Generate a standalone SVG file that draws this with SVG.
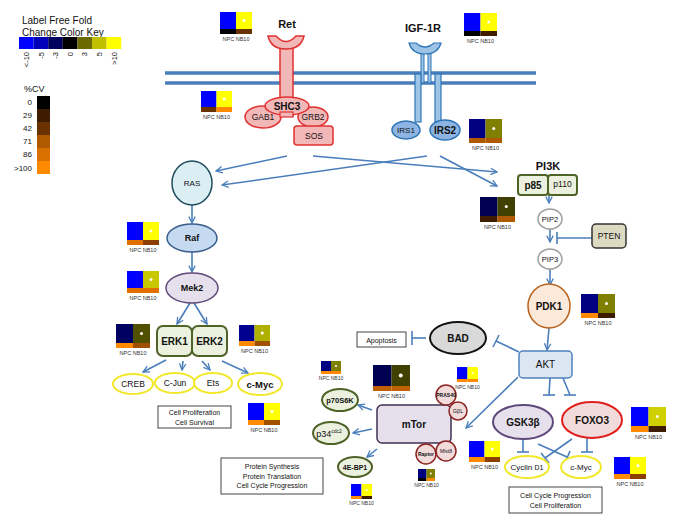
<svg xmlns="http://www.w3.org/2000/svg" width="673" height="521" viewBox="0 0 673 521">
<style>
text{font-family:"Liberation Sans",Arial,sans-serif;fill:#111}
.b{font-weight:bold}
.lab{font-size:5.5px;text-anchor:middle;fill:#333}
.c{text-anchor:middle}
.edge{stroke:#4a7ebb;stroke-width:1.6;fill:none}
.inh{stroke:#4a7ebb;stroke-width:1.6;fill:none}
.dot{fill:#fff}
.mem{stroke:#4a7ebb;stroke-width:3.5}
.ylw{fill:#fff;stroke:#f2e82a;stroke-width:2}
.grn{fill:#ebf1de;stroke:#4f6228;stroke-width:2}
.box{fill:#fff;stroke:#444;stroke-width:1}
.pnk{fill:#f2dcdb;stroke:#8b2323;stroke-width:1.5}
</style>
<defs>
<marker id="arr" viewBox="0 0 10 10" refX="9" refY="5" markerWidth="8" markerHeight="8" markerUnits="userSpaceOnUse" orient="auto">
<path d="M1,1 L9,5 L1,9" fill="none" stroke="#4a7ebb" stroke-width="1.6"/>
</marker>
</defs>

<g id="key">
<text x="22" y="24" font-size="10">Label Free Fold</text>
<text x="22" y="36" font-size="10">Change Color Key</text>
<rect x="19" y="37" width="14.6" height="12" fill="#0000ff"/>
<rect x="33.6" y="37" width="14.6" height="12" fill="#0000b8"/>
<rect x="48.2" y="37" width="14.6" height="12" fill="#00005e"/>
<rect x="62.8" y="37" width="14.6" height="12" fill="#000000"/>
<rect x="77.4" y="37" width="14.6" height="12" fill="#6a6a00"/>
<rect x="92" y="37" width="14.6" height="12" fill="#c0c000"/>
<rect x="106.6" y="37" width="14.6" height="12" fill="#ffff00"/>
<g font-size="7.5" text-anchor="end">
<text transform="translate(29,52) rotate(-90)">&lt;-10</text>
<text transform="translate(43.5,52) rotate(-90)">-5</text>
<text transform="translate(58,52) rotate(-90)">-3</text>
<text transform="translate(72.7,52) rotate(-90)">0</text>
<text transform="translate(87.3,52) rotate(-90)">3</text>
<text transform="translate(102,52) rotate(-90)">5</text>
<text transform="translate(116.5,52) rotate(-90)">&gt;10</text>
</g>
<text x="24" y="92" font-size="9">%CV</text>
<rect x="37" y="96" width="13" height="13" fill="#000000"/>
<rect x="37" y="109" width="13" height="13" fill="#3d1c00"/>
<rect x="37" y="122" width="13" height="13" fill="#6a3200"/>
<rect x="37" y="135" width="13" height="13" fill="#b05a00"/>
<rect x="37" y="148" width="13" height="13" fill="#da7000"/>
<rect x="37" y="161" width="13" height="13" fill="#ff8a00"/>
<g font-size="8" text-anchor="end">
<text x="32" y="105">0</text>
<text x="32" y="118">29</text>
<text x="32" y="131">42</text>
<text x="32" y="144">71</text>
<text x="32" y="157">86</text>
<text x="32" y="171">&gt;100</text>
</g>
</g>

<g id="membrane">
<line class="mem" x1="165" y1="73" x2="536" y2="73"/>
<line class="mem" x1="165" y1="83" x2="536" y2="83"/>
</g>

<g id="connectors">
<line class="edge" x1="287" y1="156" x2="216" y2="171" marker-end="url(#arr)"/>
<line class="edge" x1="313" y1="156" x2="497" y2="172" marker-end="url(#arr)"/>
<line class="edge" x1="427" y1="156" x2="222" y2="185" marker-end="url(#arr)"/>
<line class="edge" x1="440" y1="156" x2="497" y2="186" marker-end="url(#arr)"/>
<line class="edge" x1="192" y1="205" x2="192" y2="223" marker-end="url(#arr)"/>
<line class="edge" x1="192" y1="252" x2="192" y2="272" marker-end="url(#arr)"/>
<line class="edge" x1="190" y1="303" x2="177" y2="324" marker-end="url(#arr)"/>
<line class="edge" x1="194" y1="303" x2="207" y2="324" marker-end="url(#arr)"/>
<line class="edge" x1="166" y1="360" x2="143" y2="372" marker-end="url(#arr)"/>
<line class="edge" x1="183" y1="361" x2="182" y2="370" marker-end="url(#arr)"/>
<line class="edge" x1="202" y1="361" x2="210" y2="370" marker-end="url(#arr)"/>
<line class="edge" x1="222" y1="361" x2="248" y2="373" marker-end="url(#arr)"/>
<line class="edge" x1="549" y1="195" x2="549" y2="203" marker-end="url(#arr)"/>
<line class="edge" x1="550" y1="229" x2="550" y2="242" marker-end="url(#arr)"/>
<line class="inh" x1="592" y1="238" x2="557" y2="238"/>
<line class="inh" x1="557" y1="232" x2="557" y2="244"/>
<line class="edge" x1="550" y1="269" x2="550" y2="285" marker-end="url(#arr)"/>
<line class="edge" x1="549" y1="328" x2="547" y2="350" marker-end="url(#arr)"/>
<line class="inh" x1="519" y1="352" x2="496" y2="341"/>
<line class="inh" x1="499" y1="335" x2="493" y2="347"/>
<line class="inh" x1="426" y1="338" x2="412" y2="338"/>
<line class="inh" x1="412" y1="331" x2="412" y2="345"/>
<line class="edge" x1="518" y1="377" x2="466" y2="428" marker-end="url(#arr)"/>
<line class="inh" x1="550" y1="378" x2="549" y2="395"/>
<line class="inh" x1="543" y1="395" x2="555" y2="395"/>
<line class="inh" x1="563" y1="378" x2="570" y2="395"/>
<line class="inh" x1="564" y1="395" x2="576" y2="395"/>
<line class="inh" x1="523" y1="440" x2="523" y2="452"/>
<line class="inh" x1="517" y1="452" x2="529" y2="452"/>
<line class="inh" x1="587" y1="438" x2="587" y2="452"/>
<line class="inh" x1="581" y1="452" x2="593" y2="452"/>
<line class="inh" x1="538" y1="444" x2="567" y2="457"/>
<line class="inh" x1="565" y1="463" x2="570" y2="451"/>
<line class="inh" x1="572" y1="439" x2="545" y2="458"/>
<line class="inh" x1="541" y1="453" x2="549" y2="463"/>
<line class="edge" x1="372" y1="410" x2="358" y2="405" marker-end="url(#arr)"/>
<line class="edge" x1="372" y1="429" x2="353" y2="433" marker-end="url(#arr)"/>
<line class="edge" x1="377" y1="449" x2="367" y2="457" marker-end="url(#arr)"/>
</g>

<g id="Ret">
<rect x="280" y="44" width="13" height="72" fill="#f2b8b8" stroke="#e03030" stroke-width="1.5"/>
<path d="M268,36 L276,36 Q286,47 296,36 L304,36 Q301,49 286,49 Q271,49 268,36 Z" fill="#f2b8b8" stroke="#e03030" stroke-width="1.5"/>
<text x="287" y="28" font-size="11" class="b c">Ret</text>
</g>
<g id="GAB1"><ellipse cx="263" cy="117" rx="18" ry="11" fill="#f2b8b8" stroke="#e03030" stroke-width="1.5"/><text x="263" y="120" font-size="8.5" class="c">GAB1</text></g>
<g id="GRB2"><ellipse cx="313" cy="117" rx="15" ry="10" fill="#f2b8b8" stroke="#e03030" stroke-width="1.5"/><text x="313" y="120" font-size="8.5" class="c">GRB2</text></g>
<g id="SHC3"><ellipse cx="287" cy="106" rx="22" ry="9" fill="#f2b8b8" stroke="#e03030" stroke-width="1.5"/><rect x="280" y="112" width="13" height="5" fill="#f2b8b8" stroke="#e03030" stroke-width="1.2"/><text x="287" y="110" font-size="10" class="b c">SHC3</text></g>
<g id="SOS"><rect x="294" y="126" width="39" height="19" rx="3" fill="#f2b8b8" stroke="#e03030" stroke-width="1.5"/><text x="314" y="139" font-size="8.5" class="c">SOS</text></g>

<g id="IGF-1R">
<rect x="421" y="51" width="3" height="32" fill="#9dc3e6" stroke="#2e75b6" stroke-width="1"/>
<rect x="428" y="51" width="3" height="32" fill="#9dc3e6" stroke="#2e75b6" stroke-width="1"/>
<rect x="415" y="74" width="6" height="48" fill="#9dc3e6" stroke="#2e75b6" stroke-width="1.2"/>
<rect x="435" y="74" width="6" height="48" fill="#9dc3e6" stroke="#2e75b6" stroke-width="1.2"/>
<path d="M409,43 L416,43 Q425,51 434,43 L441,43 Q438,54 425,54 Q412,54 409,43 Z" fill="#9dc3e6" stroke="#2e75b6" stroke-width="1.2"/>
<text x="423" y="32" font-size="11" class="b c">IGF-1R</text>
</g>
<g id="IRS1"><ellipse cx="406" cy="130" rx="14" ry="9" fill="#8db4e2" stroke="#2e75b6" stroke-width="1.5"/><text x="406" y="133" font-size="8" class="c">IRS1</text></g>
<g id="IRS2"><ellipse cx="445" cy="130" rx="15" ry="10" fill="#8db4e2" stroke="#2e75b6" stroke-width="1.5"/><text x="445" y="134" font-size="10" class="b c">IRS2</text></g>

<g id="RAS"><ellipse cx="192" cy="183" rx="20" ry="22" fill="#dbeef4" stroke="#1f4e5f" stroke-width="1.5"/><text x="192" y="186" font-size="8" class="c">RAS</text></g>
<g id="Raf"><ellipse cx="192" cy="238" rx="25" ry="14" fill="#c5d9f1" stroke="#385d8a" stroke-width="1.5"/><text x="192" y="241" font-size="9" class="b c">Raf</text></g>
<g id="Mek2"><ellipse cx="192" cy="288" rx="26" ry="15" fill="#e5e0ec" stroke="#5f497a" stroke-width="1.5"/><text x="192" y="291" font-size="9" class="b c">Mek2</text></g>
<g id="ERK1"><rect x="157" y="326" width="35" height="30" rx="6" class="grn"/><text x="174.5" y="345" font-size="10" class="b c">ERK1</text></g>
<g id="ERK2"><rect x="192" y="326" width="35" height="30" rx="6" class="grn"/><text x="209.5" y="345" font-size="10" class="b c">ERK2</text></g>
<g id="CREB"><ellipse cx="133" cy="384" rx="20" ry="10" class="ylw"/><text x="133" y="387" font-size="8.5" class="c">CREB</text></g>
<g id="C-Jun"><ellipse cx="175" cy="383" rx="20" ry="10" class="ylw"/><text x="175" y="386" font-size="8.5" class="c">C-Jun</text></g>
<g id="Ets"><ellipse cx="213" cy="383" rx="19" ry="10" class="ylw"/><text x="213" y="386" font-size="8.5" class="c">Ets</text></g>
<g id="c-Myc1"><ellipse cx="260" cy="384" rx="22" ry="11" class="ylw"/><text x="260" y="388" font-size="9.5" class="b c">c-Myc</text></g>
<g id="CellProlif"><rect x="158" y="406" width="73" height="22" class="box"/><text x="194.5" y="415" font-size="7" class="c">Cell Proliferation</text><text x="194.5" y="425" font-size="7" class="c">Cell Survival</text></g>

<g id="PI3K">
<text x="548" y="170" font-size="11" class="b c">PI3K</text>
<rect x="518" y="175" width="30" height="20" rx="3" class="grn"/>
<rect x="548" y="175" width="29" height="20" rx="3" class="grn"/>
<text x="533" y="189" font-size="10" class="b c">p85</text>
<text x="562.5" y="187" font-size="8.5" class="c">p110</text>
</g>
<g id="PIP2"><ellipse cx="550" cy="219" rx="12" ry="10" fill="#fff" stroke="#a0a0a0" stroke-width="1.5"/><text x="550" y="222" font-size="7.5" class="c">PIP2</text></g>
<g id="PIP3"><ellipse cx="550" cy="259" rx="12" ry="10" fill="#fff" stroke="#a0a0a0" stroke-width="1.5"/><text x="550" y="262" font-size="7.5" class="c">PIP3</text></g>
<g id="PTEN"><rect x="592" y="224" width="34" height="24" rx="4" fill="#ddd9c3" stroke="#333" stroke-width="1.5"/><text x="609" y="239" font-size="8.5" class="c">PTEN</text></g>
<g id="PDK1"><ellipse cx="549" cy="306" rx="21" ry="22" fill="#fde9d9" stroke="#b7621d" stroke-width="1.5"/><text x="549" y="310" font-size="10" class="b c">PDK1</text></g>
<g id="AKT"><rect x="519" y="351" width="53" height="27" rx="4" fill="#dce6f2" stroke="#4f81bd" stroke-width="1.5"/><text x="545.5" y="368" font-size="10" class="c">AKT</text></g>
<g id="BAD"><ellipse cx="458" cy="338" rx="28" ry="16" fill="#d9d9d9" stroke="#111" stroke-width="2"/><text x="458" y="342" font-size="10" class="b c">BAD</text></g>
<g id="Apoptosis"><rect x="357" y="332" width="49" height="15" class="box"/><text x="381.5" y="342.5" font-size="7" class="c">Apoptosis</text></g>

<g id="mTor"><rect x="377" y="405" width="74" height="38" rx="5" fill="#e5e0ec" stroke="#403152" stroke-width="1.5"/><text x="414" y="428" font-size="10" class="b c">mTor</text></g>
<g id="PRAS40"><circle cx="446" cy="395" r="10" class="pnk"/><text x="446" y="397" font-size="5" class="b c">PRAS40</text></g>
<g id="GbL"><circle cx="458" cy="411" r="9" class="pnk"/><text x="458" y="413" font-size="5.5" class="c">GβL</text></g>
<g id="Raptor"><circle cx="426" cy="454" r="10" class="pnk"/><text x="426" y="456" font-size="5" class="b c">Raptor</text></g>
<g id="mlst8"><circle cx="446" cy="451" r="10" class="pnk"/><text x="446" y="453" font-size="5" class="c">Mlst8</text></g>
<g id="p70S6K"><ellipse cx="340" cy="400" rx="18" ry="11" class="grn"/><text x="340" y="403" font-size="7.5" class="b c">p70S6K</text></g>
<g id="p34"><ellipse cx="331" cy="433" rx="18" ry="11" class="grn"/><text x="329" y="437" font-size="9" class="c">p34<tspan font-size="5" dy="-4">cdc2</tspan></text></g>
<g id="4E-BP1"><ellipse cx="355" cy="467" rx="17" ry="10" class="grn"/><text x="355" y="470" font-size="7" class="b c">4E-BP1</text></g>
<g id="ProtSynth"><rect x="221" y="458" width="102" height="36" class="box"/><text x="272" y="469" font-size="7" class="c">Protein Synthesis</text><text x="272" y="478.5" font-size="7" class="c">Protein Translation</text><text x="272" y="488" font-size="7" class="c">Cell Cycle Progression</text></g>

<g id="GSK3b"><ellipse cx="523" cy="422" rx="30" ry="17" fill="#e5e0ec" stroke="#5f497a" stroke-width="2"/><text x="523" y="426" font-size="10" class="b c">GSK3β</text></g>
<g id="FOXO3"><ellipse cx="592" cy="420" rx="30" ry="18" fill="#f2dcdb" stroke="#e02020" stroke-width="2"/><text x="592" y="424" font-size="10" class="b c">FOXO3</text></g>
<g id="CyclinD1"><ellipse cx="527" cy="467" rx="22" ry="11" class="ylw"/><text x="527" y="470" font-size="8" class="c">Cyclin <tspan font-size="7">D1</tspan></text></g>
<g id="c-Myc2"><ellipse cx="581" cy="467" rx="20" ry="11" class="ylw"/><text x="581" y="470" font-size="8" class="c">c-Myc</text></g>
<g id="CellCycle"><rect x="509" y="487" width="93" height="26" class="box"/><text x="555.5" y="498" font-size="7" class="c">Cell Cycle Progression</text><text x="555.5" y="508" font-size="7" class="c">Cell Proliferation</text></g>

<g id="heatmaps">
<g><rect x="220" y="12" width="16" height="17" fill="#0000ff"/><rect x="236" y="12" width="16" height="17" fill="#ffff00"/><rect x="220" y="29" width="16" height="5" fill="#000"/><rect x="236" y="29" width="16" height="5" fill="#6a3200"/><circle class="dot" cx="244" cy="20.5" r="1.5"/><text class="lab" x="236" y="41">NPC  NB10</text></g>
<g><rect x="201" y="91" width="15.5" height="16" fill="#0000ff"/><rect x="216.5" y="91" width="15.5" height="16" fill="#ffff00"/><rect x="201" y="107" width="15.5" height="5" fill="#6a3200"/><rect x="216.5" y="107" width="15.5" height="5" fill="#ff8a00"/><circle class="dot" cx="224.25" cy="99" r="1.5"/><text class="lab" x="216.5" y="119">NPC  NB10</text></g>
<g><rect x="464" y="13" width="16.5" height="18" fill="#0000ff"/><rect x="480.5" y="13" width="16.5" height="18" fill="#ffff00"/><rect x="464" y="31" width="16.5" height="5" fill="#000"/><rect x="480.5" y="31" width="16.5" height="5" fill="#3d1c00"/><circle class="dot" cx="488.75" cy="22" r="1.5"/><text class="lab" x="480.5" y="43">NPC  NB10</text></g>
<g><rect x="469" y="119" width="16.5" height="19" fill="#000080"/><rect x="485.5" y="119" width="16.5" height="19" fill="#808000"/><rect x="469" y="138" width="16.5" height="5" fill="#b05a00"/><rect x="485.5" y="138" width="16.5" height="5" fill="#b05a00"/><circle class="dot" cx="493.75" cy="128.5" r="1.5"/><text class="lab" x="485.5" y="150">NPC  NB10</text></g>
<g><rect x="127" y="222" width="16" height="18" fill="#0000ff"/><rect x="143" y="222" width="16" height="18" fill="#ffff00"/><rect x="127" y="240" width="16" height="5" fill="#e07000"/><rect x="143" y="240" width="16" height="5" fill="#8b4000"/><circle class="dot" cx="151" cy="231" r="1.5"/><text class="lab" x="143" y="252">NPC  NB10</text></g>
<g><rect x="127" y="271" width="16" height="17" fill="#0000ff"/><rect x="143" y="271" width="16" height="17" fill="#c8c800"/><rect x="127" y="288" width="16" height="5" fill="#e07000"/><rect x="143" y="288" width="16" height="5" fill="#e07000"/><circle class="dot" cx="151" cy="279.5" r="1.5"/><text class="lab" x="143" y="300">NPC  NB10</text></g>
<g><rect x="116" y="324" width="17" height="19" fill="#000060"/><rect x="133" y="324" width="17" height="19" fill="#505000"/><rect x="116" y="343" width="17" height="5" fill="#ff8a00"/><rect x="133" y="343" width="17" height="5" fill="#a05000"/><circle class="dot" cx="141.5" cy="333.5" r="1.5"/><text class="lab" x="133" y="355">NPC  NB10</text></g>
<g><rect x="239" y="325" width="15.5" height="16" fill="#000090"/><rect x="254.5" y="325" width="15.5" height="16" fill="#b0b000"/><rect x="239" y="341" width="15.5" height="5" fill="#ff8a00"/><rect x="254.5" y="341" width="15.5" height="5" fill="#a05000"/><circle class="dot" cx="262.25" cy="333" r="1.5"/><text class="lab" x="254.5" y="353">NPC  NB10</text></g>
<g><rect x="248" y="403" width="16" height="17" fill="#0000ff"/><rect x="264" y="403" width="16" height="17" fill="#ffff00"/><rect x="248" y="420" width="16" height="5" fill="#ff8a00"/><rect x="264" y="420" width="16" height="5" fill="#a05000"/><circle class="dot" cx="272" cy="411.5" r="1.5"/><text class="lab" x="264" y="432">NPC  NB10</text></g>
<g><rect x="480" y="197" width="17.5" height="19" fill="#000050"/><rect x="497.5" y="197" width="17.5" height="19" fill="#404000"/><rect x="480" y="216" width="17.5" height="6" fill="#3d1c00"/><rect x="497.5" y="216" width="17.5" height="6" fill="#b05a00"/><circle class="dot" cx="506.25" cy="206.5" r="1.5"/><text class="lab" x="497.5" y="229">NPC  NB10</text></g>
<g><rect x="581" y="294" width="17" height="19" fill="#000080"/><rect x="598" y="294" width="17" height="19" fill="#808000"/><rect x="581" y="313" width="17" height="5" fill="#ff8a00"/><rect x="598" y="313" width="17" height="5" fill="#3d1c00"/><circle class="dot" cx="606.5" cy="303.5" r="1.5"/><text class="lab" x="598" y="325">NPC  NB10</text></g>
<g><rect x="321" y="361" width="10" height="10" fill="#000080"/><rect x="331" y="361" width="10" height="10" fill="#808000"/><rect x="321" y="371" width="10" height="3" fill="#ff8a00"/><rect x="331" y="371" width="10" height="3" fill="#ff8a00"/><circle class="dot" cx="336" cy="366" r="1"/><text class="lab" x="331" y="380" style="font-size:5px">NPC  NB10</text></g>
<g><rect x="373" y="365" width="18.5" height="21" fill="#000050"/><rect x="391.5" y="365" width="18.5" height="21" fill="#404000"/><rect x="373" y="386" width="18.5" height="5" fill="#c06000"/><rect x="391.5" y="386" width="18.5" height="5" fill="#c06000"/><circle class="dot" cx="400.75" cy="375.5" r="2"/><text class="lab" x="391.5" y="398">NPC   NB10</text></g>
<g><rect x="457" y="367" width="10.5" height="12" fill="#0000ff"/><rect x="467.5" y="367" width="10.5" height="12" fill="#ffff00"/><rect x="457" y="379" width="10.5" height="3" fill="#ff8a00"/><rect x="467.5" y="379" width="10.5" height="3" fill="#ff8a00"/><circle class="dot" cx="472.75" cy="373" r="1"/><text class="lab" x="467.5" y="389" style="font-size:5px">NPC  NB10</text></g>
<g><rect x="418" y="469" width="8.5" height="9" fill="#000080"/><rect x="426.5" y="469" width="8.5" height="9" fill="#808000"/><rect x="418" y="478" width="8.5" height="3" fill="#000"/><rect x="426.5" y="478" width="8.5" height="3" fill="#ff8a00"/><circle class="dot" cx="430.75" cy="473.5" r="1"/><text class="lab" x="426.5" y="487" style="font-size:5px">NPC  NB10</text></g>
<g><rect x="351" y="484" width="10.5" height="12" fill="#0000ff"/><rect x="361.5" y="484" width="10.5" height="12" fill="#ffff00"/><rect x="351" y="496" width="10.5" height="3" fill="#ff8a00"/><rect x="361.5" y="496" width="10.5" height="3" fill="#3d1c00"/><circle class="dot" cx="366.75" cy="490" r="1"/><text class="lab" x="361.5" y="505" style="font-size:5px">NPC  NB10</text></g>
<g><rect x="469" y="441" width="15.5" height="16" fill="#0000ff"/><rect x="484.5" y="441" width="15.5" height="16" fill="#ffff00"/><rect x="469" y="457" width="15.5" height="5" fill="#ff8a00"/><rect x="484.5" y="457" width="15.5" height="5" fill="#8b4000"/><circle class="dot" cx="492.25" cy="449" r="1.5"/><text class="lab" x="484.5" y="469">NPC  NB10</text></g>
<g><rect x="631" y="407" width="17.5" height="19" fill="#0000ff"/><rect x="648.5" y="407" width="17.5" height="19" fill="#d0d000"/><rect x="631" y="426" width="17.5" height="6" fill="#ff8a00"/><rect x="648.5" y="426" width="17.5" height="6" fill="#3d1c00"/><circle class="dot" cx="657.25" cy="416.5" r="1.5"/><text class="lab" x="648.5" y="439">NPC  NB10</text></g>
<g><rect x="614" y="457" width="16" height="17" fill="#0000ff"/><rect x="630" y="457" width="16" height="17" fill="#ffff00"/><rect x="614" y="474" width="16" height="5" fill="#ff8a00"/><rect x="630" y="474" width="16" height="5" fill="#8b4000"/><circle class="dot" cx="638" cy="465.5" r="1.5"/><text class="lab" x="630" y="486">NPC  NB10</text></g>
</g>
</svg>
